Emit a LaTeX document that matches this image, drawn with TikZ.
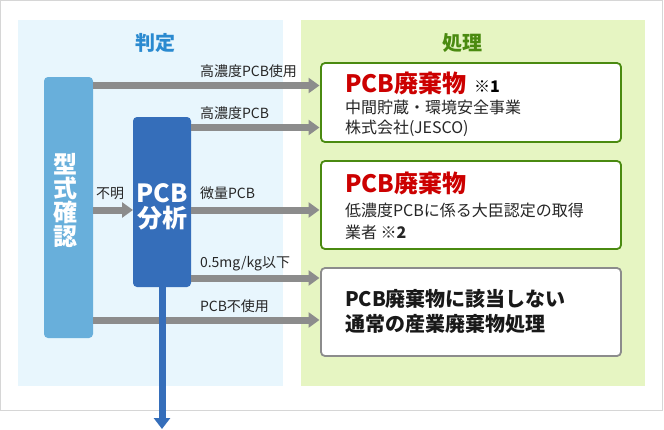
\documentclass[tikz,border=0pt]{standalone}
\usepackage{fontspec}
\setmainfont{Noto Sans CJK JP}
\usetikzlibrary{arrows.meta, positioning, calc}
\definecolor{judge_bg}{HTML}{E8F6FD}
\definecolor{proc_bg}{HTML}{E6F5C2}
\definecolor{judge_blue}{HTML}{2A8AD0}
\definecolor{proc_green}{HTML}{4A8A10}
\definecolor{type_blue}{HTML}{68AFDB}
\definecolor{ana_blue}{HTML}{356EBA}
\definecolor{arrow_gray}{HTML}{8C8C8C}
\definecolor{frame_gray}{HTML}{D6D6D6}
\definecolor{waste_red}{HTML}{CC0000}

\begin{document}
\begin{tikzpicture}[
    x=1pt, y=-1pt,
    every node/.style={inner sep=0pt, outer sep=0pt},
    ttl/.style={font=\bfseries\fontsize{20}{20}\selectfont},
    typebox/.style={fill=type_blue, rounded corners=4pt,
                minimum width=49pt, minimum height=261pt},
    anabox/.style={fill=ana_blue, rounded corners=4pt,
                minimum width=58pt, minimum height=170pt},
    resbox/.style={draw=proc_green, line width=1.8pt, fill=white, rounded corners=4pt,
                minimum width=300pt},
    boxtxt/.style={text=white, align=center, font=\bfseries},
    arr/.style={-{Triangle[width=15pt, length=11pt]}, line width=7pt, arrow_gray},
    lbl/.style={anchor=base west, text=black!85, font=\fontsize{14}{14}\selectfont},
    bodytxt/.style={anchor=base west, text=black!85, font=\fontsize{16}{16}\selectfont},
    redttl/.style={anchor=base west, text=waste_red, font=\bfseries\fontsize{24}{24}\selectfont},
    plaintxt/.style={anchor=base west, text=black!90, font=\bfseries\fontsize{20}{20}\selectfont},
]
\useasboundingbox (0,0) rectangle (664,429);
\fill[white] (0,0) rectangle (664,429);
\draw[frame_gray] (0.5,0.5) rectangle (662,410);

% panels
\fill[judge_bg] (18,20) rectangle (283,386);
\fill[proc_bg]  (301,20) rectangle (645,386);
\node[ttl, text=judge_blue] (judge) at (155,43) {判定};
\node[ttl, text=proc_green] (proc)  at (462,43) {処理};

% left side
\node[typebox] (type) at (68.5,207.5) {};
\node[boxtxt, font=\bfseries\fontsize{24}{24}\selectfont] (typetxt) at (65,200) {型\\式\\確\\認};
\node[anabox] (ana) at (162,202) {};
\node[boxtxt, font=\bfseries\fontsize{25}{25}\selectfont] (anatxt) at (162,207) {PCB\\分析};

% right side
\node[resbox, minimum height=79pt] (res1) at (471,102.5) {};
\node[resbox, minimum height=88pt] (res2) at (471,205) {};
\node[resbox, draw=arrow_gray, minimum height=88pt] (res3) at (471,312) {};

\node[redttl] (res1ttl) at (345,92) {PCB廃棄物};
\node[anchor=base west, font=\bfseries\fontsize{16}{16}\selectfont] (res1note) at (474,92) {※1};
\node[bodytxt] (res1a) at (345,113) {中間貯蔵・環境安全事業};
\node[bodytxt] (res1b) at (345,133) {株式会社(JESCO)};

\node[redttl] (res2ttl) at (345,192) {PCB廃棄物};
\node[bodytxt] (res2a) at (345,216) {低濃度PCBに係る大臣認定の取得};
\node[bodytxt] (res2b) at (345,238) {業者 \textbf{※2}};

\node[plaintxt] (res3a) at (345,306) {PCB廃棄物に該当しない};
\node[plaintxt] (res3b) at (345,331) {通常の産業廃棄物処理};

% arrows
\draw[arr, shorten >=1.5pt] ([yshift=-8.5pt]type.north east) -- ([yshift=-8.5pt]type.north east -| res1.west);
\draw[arr, shorten >=1.5pt] ([yshift=-10.5pt]ana.north east) -- ([yshift=-10.5pt]ana.north east -| res1.west);
\draw[arr] ([yshift=-2.5pt]type.east) -- ([yshift=-2.5pt]type.east -| ana.west);
\draw[arr, shorten >=1.5pt] ([yshift=-8pt]ana.east) -- ([yshift=-8pt]ana.east -| res2.west);
\draw[arr, shorten >=1.5pt] ([yshift=9pt]ana.south east) -- ([yshift=9pt]ana.south east -| res3.west);
\draw[arr, shorten >=1.5pt] ([yshift=18pt]type.south east) -- ([yshift=18pt]type.south east -| res3.west);

\coordinate (anaend) at (162,429);
\draw[-{Triangle[width=16pt, length=11pt]}, line width=7pt, ana_blue] (ana.south) -- (ana.south |- anaend);

% arrow labels
\node[lbl] (l1) at (200,76)  {高濃度PCB使用};
\node[lbl] (l2) at (200,118) {高濃度PCB};
\node[lbl] (l3) at (96,198)  {不明};
\node[lbl] (l4) at (200,198) {微量PCB};
\node[lbl] (l5) at (200,267) {0.5mg/kg以下};
\node[lbl] (l6) at (200,311) {PCB不使用};
\end{tikzpicture}
\end{document}
